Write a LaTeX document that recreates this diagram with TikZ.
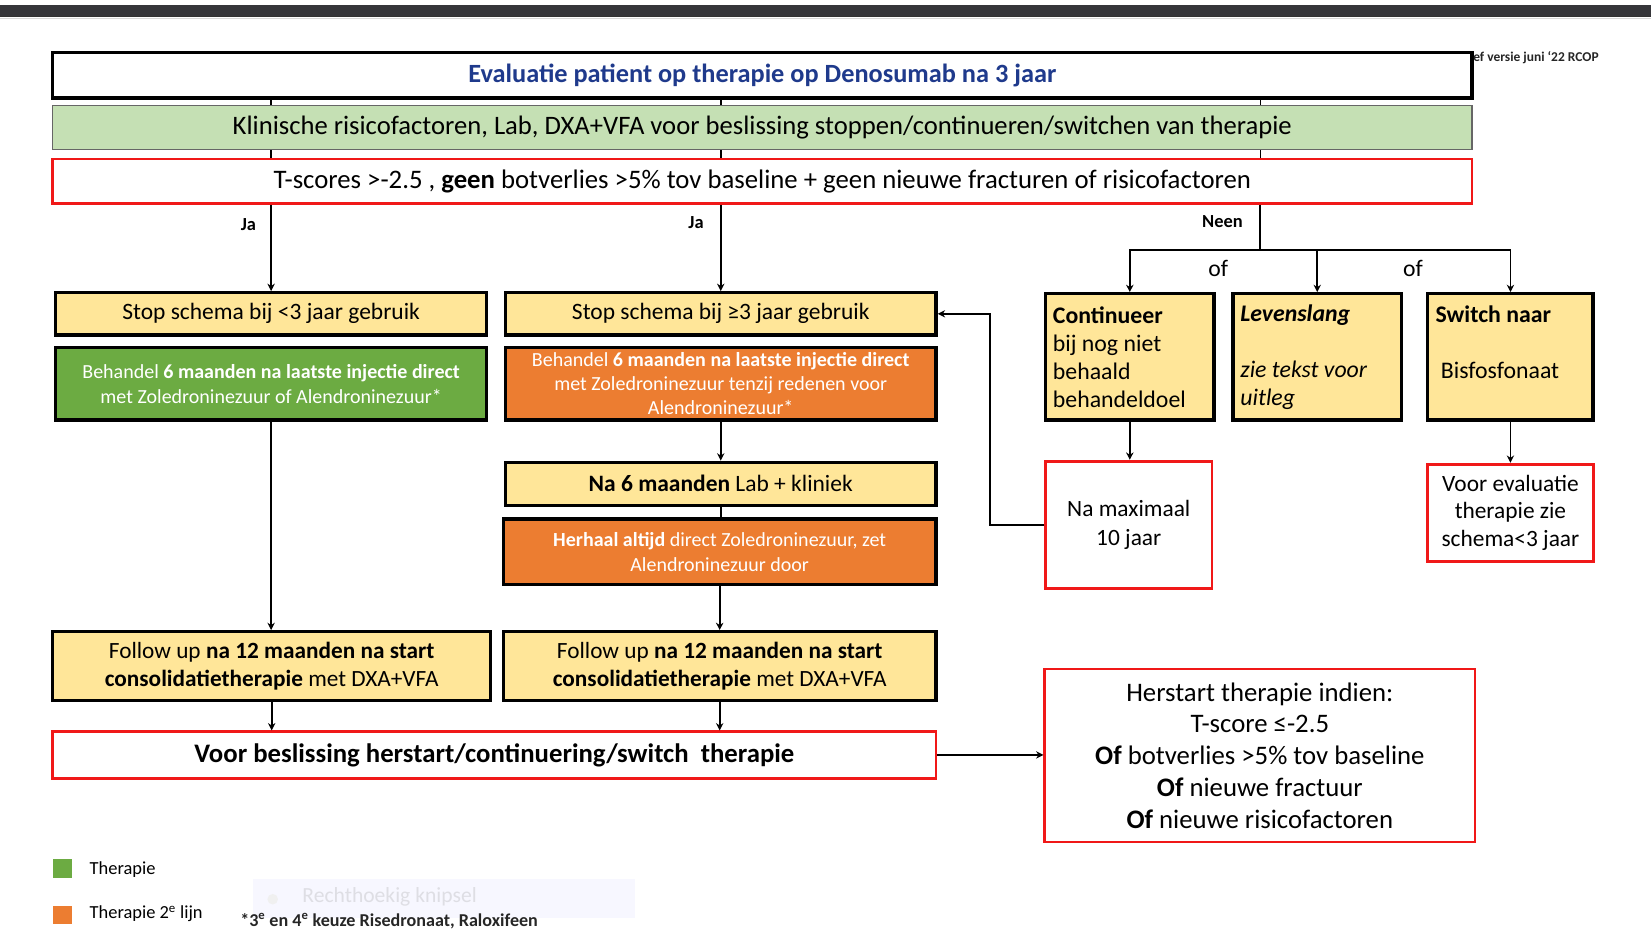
\documentclass[tikz,border=0pt]{standalone}
\usepackage{fontspec}
\setmainfont{Carlito}
\usetikzlibrary{arrows.meta}
\definecolor{barDark}{HTML}{36363A}
\definecolor{boxYellow}{HTML}{FFE699}
\definecolor{barGreen}{HTML}{C5E0B4}
\definecolor{thGreen}{HTML}{6CAB42}
\definecolor{thOrange}{HTML}{EC7D31}
\definecolor{titleBlue}{HTML}{1F3A8C}
\definecolor{alertRed}{HTML}{F01818}
\newcommand{\fs}[2]{\fontsize{#1}{#2}\selectfont}
\tikzset{
  stepbox/.style={draw=black, line width=3.2pt, fill=boxYellow, inner sep=2pt, align=center},
  greenbox/.style={stepbox, fill=thGreen, text=white},
  orangebox/.style={stepbox, fill=thOrange, text=white},
  redbox/.style={draw=alertRed, line width=2.6pt, fill=white, inner sep=2pt, align=center},
  sidebox/.style={stepbox, align=flush left, text width=146pt, font=\fs{22.6}{26.7}},
  conn/.style={draw=black, line width=1.8pt},
  arr/.style={conn, -{Stealth[length=7pt,width=7pt]}},
  tag/.style={font=\fs{17.5}{20}\bfseries, inner sep=0pt},
}
\begin{document}
\begin{tikzpicture}[x=1pt, y=-1pt]
\useasboundingbox (0,0) rectangle (1568,898);
% window strip along the top edge
\fill[barDark] (0,5) rectangle (1568,16);
\draw[black!80, line width=0.8pt] (0,16) -- (1568,16);
\draw[black!15, line width=0.8pt] (0,17.2) -- (1568,17.2);

% header bars
\node[draw=black, line width=3.5pt, fill=white, minimum width=1348pt, minimum height=43pt, inner sep=0pt,
      font=\fs{25}{28}\bfseries, text=titleBlue] (title) at (724,71.5)
      {Evaluatie patient op therapie op Denosumab na 3 jaar};
\node[font=\fs{12.8}{14}\bfseries, text=black!85, anchor=west, inner sep=0pt] (version) at (1399,55)
      {ef versie juni ‘22 RCOP};
\node[draw=black!60, line width=1pt, fill=barGreen, minimum width=1348pt, minimum height=42pt, inner sep=0pt,
      font=\fs{25.3}{28}] (clinic) at (724,121)
      {Klinische risicofactoren, Lab, DXA+VFA voor beslissing stoppen/continueren/switchen van therapie};
\node[redbox, minimum width=1348pt, minimum height=42pt, inner sep=0pt, font=\fs{25.4}{28}] (crit) at (724,172)
      {T-scores >-2.5 , \textbf{geen} botverlies >5\% tov baseline + geen nieuwe fracturen of risicofactoren};

% left column
\node[stepbox, minimum width=409pt, minimum height=40pt, font=\fs{22.3}{25}] (stopA) at (257.5,298)
      {Stop schema bij <3 jaar gebruik};
\node[greenbox, minimum width=409pt, minimum height=69pt, font=\fs{19}{24}] (treatA) at (257.5,364.5)
      {Behandel \textbf{6 maanden na laatste injectie direct}\\met Zoledroninezuur of Alendroninezuur*};
\node[stepbox, minimum width=416pt, minimum height=65pt, font=\fs{22.1}{27}] (followA) at (258,632.5)
      {Follow up \textbf{na 12 maanden na start}\\\textbf{consolidatietherapie} met DXA+VFA};

% middle column
\node[stepbox, minimum width=409pt, minimum height=40pt, font=\fs{22.3}{25}] (stopB) at (684.5,298)
      {Stop schema bij ≥3 jaar gebruik};
\node[orangebox, minimum width=409pt, minimum height=69pt, font=\fs{19}{23}] (treatB) at (684.5,364.5)
      {Behandel \textbf{6 maanden na laatste injectie direct}\\met Zoledroninezuur tenzij redenen voor\\Alendroninezuur*};
\node[stepbox, minimum width=409pt, minimum height=41pt, font=\fs{22.3}{25}] (labB) at (684.5,459.5)
      {\textbf{Na 6 maanden} Lab + kliniek};
\node[orangebox, minimum width=411pt, minimum height=62pt, font=\fs{19}{24}] (repeatB) at (683.5,524)
      {\textbf{Herhaal altijd} direct Zoledroninezuur, zet\\Alendroninezuur door};
\node[stepbox, minimum width=411pt, minimum height=65pt, font=\fs{22.1}{27}] (followB) at (683.5,632.5)
      {Follow up \textbf{na 12 maanden na start}\\\textbf{consolidatietherapie} met DXA+VFA};

% decision row
\node[redbox, minimum width=839pt, minimum height=44pt, font=\fs{25.4}{28}\bfseries] (decide) at (469.5,717)
      {Voor beslissing herstart/continuering/switch\ \ therapie};
\node[redbox, line width=2pt, minimum width=409pt, minimum height=165pt, font=\fs{25.4}{30.2}] (restart) at (1196.5,717.5)
      {Herstart therapie indien:\\T-score ≤-2.5\\\textbf{Of} botverlies >5\% tov baseline\\\textbf{Of} nieuwe fractuur\\\textbf{Of} nieuwe risicofactoren};

% right column
\node[sidebox, minimum width=160pt, minimum height=120pt] (cont) at (1073,339)
      {\textbf{Continueer}\\bij nog niet\\behaald\\behandeldoel};
\node[sidebox, minimum width=160pt, minimum height=120pt] (life) at (1251,339)
      {\textbf{\itshape Levenslang}\\\strut\\\textit{zie tekst voor}\\\textit{uitleg}};
\node[sidebox, minimum width=157pt, minimum height=120pt, text width=142pt] (switch) at (1434.5,339)
      {\rule{0pt}{23pt}\textbf{Switch naar}\\\strut\\\hspace*{5pt}Bisfosfonaat\\\strut};
\node[redbox, minimum width=158pt, minimum height=121pt, font=\fs{22.2}{27}] (maxten) at (1072,498.5)
      {Na maximaal\\10 jaar};
\node[redbox, line width=3pt, minimum width=157pt, minimum height=92pt, font=\fs{22.2}{26.5}] (evalnote) at (1434.5,487)
      {Voor evaluatie\\therapie zie\\schema<3 jaar};

% branch labels
\node[tag] (yesA) at (236,213) {Ja};
\node[tag] (yesB) at (661,211) {Ja};
\node[tag] (no) at (1161,210) {Neen};
\node[font=\fs{22.5}{25}, inner sep=0pt] (orA) at (1157,255) {of};
\node[font=\fs{22.5}{25}, inner sep=0pt] (orB) at (1342,255) {of};

% routing points
\coordinate (colA) at (257.5,0);
\coordinate (colB) at (684.5,0);
\coordinate (colC) at (1197,0);
\coordinate (split) at (1197,237);
\coordinate (back) at (940,0);

% through the header bars
\foreach \c in {colA,colB,colC} {
  \draw[conn, line width=1.5pt] (title.south -| \c) -- (clinic.north -| \c);
  \draw[conn, line width=1.5pt] (clinic.south -| \c) -- (crit.north -| \c);
}
% main flow
\draw[arr] (crit.south -| stopA.north) -- (stopA.north);
\draw[arr] (crit.south -| stopB.north) -- (stopB.north);
\draw[conn] (crit.south -| split) -- (split);
\draw[arr] (split) -| (cont.north);
\draw[arr] (split) -| (switch.north);
\draw[arr] (split -| life.north) -- (life.north);

\draw[arr] (treatA.south) -- (followA.north -| treatA.south);
\draw[arr] (followA.south) -- (decide.north -| followA.south);

\draw[arr] (treatB.south) -- (labB.north);
\draw[conn] (labB.south) -- (repeatB.north -| labB.south);
\draw[arr] (repeatB.south) -- (followB.north);
\draw[arr] (followB.south) -- (decide.north -| followB.south);

\draw[arr] (decide.east) -- (restart.west |- decide.east);

\draw[arr] (cont.south) -- (maxten.north -| cont.south);
\draw[arr] (maxten.west) -- (maxten.west -| back) |- (stopB.east);
\draw[arr] (switch.south) -- (evalnote.north);

% faint snipping-tool label
\node[fill=blue!3, minimum width=363pt, minimum height=37pt, inner sep=0pt] (snip) at (421.5,853.5) {};
\node[circle, fill=black!6, minimum size=10pt, inner sep=0pt] (snipdot) at (259,854) {};
\node[font=\fs{20.5}{23}, text=blue!20!black!13, anchor=west, inner sep=0pt] (sniptext) at (287,852) {Rechthoekig knipsel};

% legend
\node[fill=thGreen, minimum size=18pt, inner sep=0pt] (keyG) at (59,825) {};
\node[fill=thOrange, minimum size=18pt, inner sep=0pt] (keyO) at (59,869) {};
\node[font=\fs{17.5}{20}, anchor=west, inner sep=0pt] (keyGt) at (85,826) {Therapie};
\node[font=\fs{17.5}{20}, anchor=west, inner sep=0pt] (keyOt) at (85,868) {Therapie 2\textsuperscript{e} lijn};
\node[font=\fs{17.2}{20}\bfseries, text=black!85, anchor=west, inner sep=0pt] (foot) at (228,875)
      {*3\textsuperscript{e} en 4\textsuperscript{e} keuze Risedronaat, Raloxifeen};
\end{tikzpicture}
\end{document}
